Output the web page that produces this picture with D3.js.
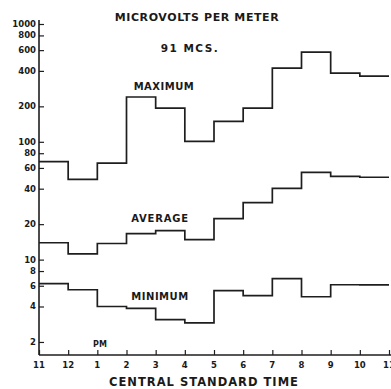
<!DOCTYPE html>
<html>
<head>
<meta charset="utf-8">
<script src="https://cdn.jsdelivr.net/npm/d3@7"></script>
<style>
  html, body { margin: 0; padding: 0; background: #fff; }
  svg { display: block; }
  text { font-family: "DejaVu Sans", "Liberation Sans", sans-serif; font-weight: bold; fill: #1a1a1a; }
</style>
</head>
<body>
<svg id="chart" width="391" height="389"></svg>
<script>
// Hour tick labels (11 AM to 11 PM)
const hourLabels = ["11", "12", "1", "2", "3", "4", "5", "6", "7", "8", "9", "10", "11"];
// Hourly values (microvolts per meter), one per hour interval
const maximum = [68, 48, 66, 240, 193, 101, 149, 193, 422, 578, 383, 361];
const average = [13.9, 11.2, 13.7, 16.6, 17.6, 14.8, 22.3, 30.5, 40.2, 55, 50.9, 50];
const minimum = [6.25, 5.55, 4.0, 3.85, 3.1, 2.9, 5.45, 4.94, 6.9, 4.84, 6.12, 6.1];
const yTickValues = [1000, 800, 600, 400, 200, 100, 80, 60, 40, 20, 10, 8, 6, 4, 2];

const svg = d3.select("#chart");
const x = d3.scaleLinear().domain([0, 12]).range([39, 389]);
const y = d3.scaleLog().domain([1.55, 1000]).range([355, 24]);

const ink = "#1e1e1e";

// Y axis
const yAxis = d3.axisRight(y).tickValues(yTickValues).tickSize(5).tickFormat(() => "");
const gy = svg.append("g").attr("transform", `translate(${x(0)},0)`).call(yAxis);
gy.select(".domain").remove();
gy.selectAll(".tick line").attr("stroke", ink).attr("stroke-width", 1.2);
svg.append("line").attr("x1", x(0)).attr("x2", x(0)).attr("y1", y(1.55)).attr("y2", 20)
  .attr("stroke", ink).attr("stroke-width", 1.6);
svg.append("g").selectAll("text").data(yTickValues).join("text")
  .attr("x", 36).attr("y", d => y(d)).attr("dy", "0.35em")
  .attr("text-anchor", "end").attr("font-size", 8.5).text(d => d);

// X axis
const xAxis = d3.axisTop(x).tickValues(d3.range(0, 13)).tickSize(5).tickFormat(() => "");
const gx = svg.append("g").attr("transform", `translate(0,${y(1.55)})`).call(xAxis);
gx.select(".domain").remove();
gx.selectAll(".tick line").attr("stroke", ink).attr("stroke-width", 1.2);
svg.append("line").attr("x1", x(0)).attr("x2", 391).attr("y1", y(1.55)).attr("y2", y(1.55))
  .attr("stroke", ink).attr("stroke-width", 1.6);
svg.append("g").selectAll("text").data(hourLabels).join("text")
  .attr("x", (d, i) => x(i)).attr("y", 365).attr("dy", "0.35em")
  .attr("text-anchor", "middle").attr("font-size", 8.5).text(d => d);

// Step lines
const line = d3.line().x(d => x(d[0])).y(d => y(d[1])).curve(d3.curveStepAfter);
function stepData(vals) {
  const pts = vals.map((v, i) => [i, v]);
  pts.push([12, vals[vals.length - 1]]);
  return pts;
}
[maximum, average, minimum].forEach(series => {
  svg.append("path").attr("d", line(stepData(series)))
    .attr("fill", "none").attr("stroke", ink).attr("stroke-width", 1.7);
});

// Text labels
svg.append("text").attr("x", 197).attr("y", 17).attr("dy", "0.35em").attr("text-anchor", "middle")
  .attr("font-size", 11).attr("letter-spacing", 0.6).text("MICROVOLTS PER METER");
svg.append("text").attr("x", 190).attr("y", 48).attr("dy", "0.35em").attr("text-anchor", "middle")
  .attr("font-size", 10.5).attr("letter-spacing", 1.5).text("91 MCS.");
svg.append("text").attr("x", 164).attr("y", 86).attr("dy", "0.35em").attr("text-anchor", "middle")
  .attr("font-size", 10).attr("letter-spacing", 0.5).text("MAXIMUM");
svg.append("text").attr("x", 160).attr("y", 218).attr("dy", "0.35em").attr("text-anchor", "middle")
  .attr("font-size", 10).attr("letter-spacing", 0.8).text("AVERAGE");
svg.append("text").attr("x", 160).attr("y", 296).attr("dy", "0.35em").attr("text-anchor", "middle")
  .attr("font-size", 10).attr("letter-spacing", 0.5).text("MINIMUM");
svg.append("text").attr("x", 100).attr("y", 344).attr("dy", "0.35em").attr("text-anchor", "middle")
  .attr("font-size", 8).text("PM");
svg.append("text").attr("x", 204).attr("y", 382).attr("dy", "0.35em").attr("text-anchor", "middle")
  .attr("font-size", 11.5).attr("letter-spacing", 1).text("CENTRAL STANDARD TIME");
</script>
</body>
</html>
